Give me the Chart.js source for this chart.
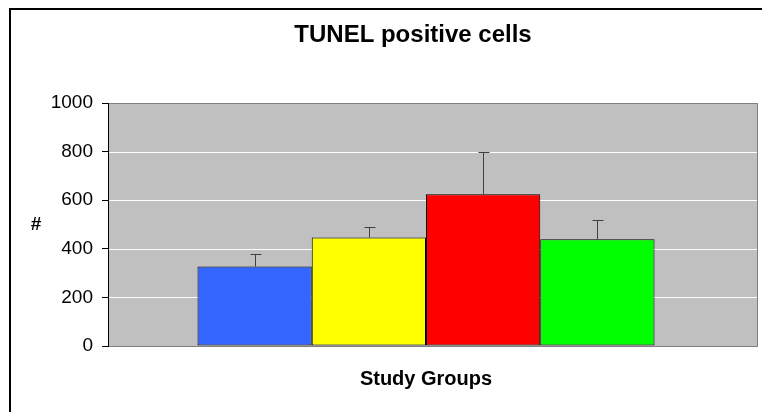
<!DOCTYPE html>
<html>
<head>
<meta charset="utf-8">
<script src="https://cdn.jsdelivr.net/npm/chart.js@4.4.1/dist/chart.umd.min.js"></script>
<style>
  html, body { margin: 0; padding: 0; background: #ffffff; overflow: hidden; }
  canvas { display: block; }
</style>
</head>
<body>
<canvas id="chart" width="762" height="412"></canvas>
<script>
const groups = ['Group 1', 'Group 2', 'Group 3', 'Group 4'];
const means = [327, 446, 624, 439];
const errors = [53, 45, 176, 79];
const colors = ['#3366ff', '#ffff00', '#ff0000', '#00ff00'];
const yTicks = [0, 200, 400, 600, 800, 1000];

const FONT = 'Liberation Sans, Arial, sans-serif';
const PLOT_EXTRA_RIGHT = 14;

// white page, outer frame, title, grey plot area with white gridlines
const plotArea = {
  id: 'plotArea',
  beforeDraw(chart) {
    const { ctx, chartArea: a, scales: { y } } = chart;
    const right = a.right + PLOT_EXTRA_RIGHT;
    ctx.save();
    ctx.fillStyle = '#ffffff';
    ctx.fillRect(0, 0, chart.width, chart.height);
    ctx.strokeStyle = '#000000';
    ctx.lineWidth = 2;
    ctx.strokeRect(10, 9, 900, 600);

    ctx.fillStyle = '#c0c0c0';
    ctx.fillRect(a.left, a.top, right - a.left, a.bottom - a.top);
    ctx.strokeStyle = '#ffffff';
    ctx.lineWidth = 1;
    y.ticks.forEach(t => {
      const py = Math.round(y.getPixelForValue(t.value)) + 0.5;
      ctx.beginPath();
      ctx.moveTo(a.left, py);
      ctx.lineTo(right, py);
      ctx.stroke();
    });
    ctx.strokeStyle = '#808080';
    ctx.strokeRect(Math.round(a.left) + 0.5, Math.round(a.top) + 0.5,
      Math.round(right - a.left) - 1, Math.round(a.bottom - a.top));

    ctx.fillStyle = '#000000';
    ctx.textAlign = 'center';
    ctx.textBaseline = 'middle';
    ctx.font = 'bold 24px ' + FONT;
    ctx.fillText('TUNEL positive cells', 413, 35);
    ctx.font = 'bold 19px ' + FONT;
    ctx.fillText('#', 36, (a.top + a.bottom) / 2);
    ctx.restore();
  }
};

const errorBars = {
  id: 'errorBars',
  afterDatasetsDraw(chart) {
    const { ctx, scales: { y } } = chart;
    ctx.save();
    ctx.strokeStyle = '#404040';
    ctx.lineWidth = 1;
    chart.data.datasets.forEach((ds, i) => {
      const bar = chart.getDatasetMeta(i).data[0];
      const x = Math.round(bar.x) + 0.5;
      const top = Math.round(y.getPixelForValue(ds.data[0] + errors[i])) + 0.5;
      ctx.beginPath();
      ctx.moveTo(x, bar.y);
      ctx.lineTo(x, top);
      ctx.moveTo(x - 5, top);
      ctx.lineTo(x + 6, top);
      ctx.stroke();
    });
    ctx.restore();
  }
};

new Chart(document.getElementById('chart'), {
  type: 'bar',
  plugins: [plotArea, errorBars],
  data: {
    labels: [''],
    datasets: groups.map((g, i) => ({
      label: g,
      data: [means[i]],
      backgroundColor: colors[i],
      borderColor: '#000000',
      borderWidth: 1,
      borderSkipped: false,
      categoryPercentage: 0.7186,
      barPercentage: 1
    }))
  },
  options: {
    responsive: false,
    animation: false,
    devicePixelRatio: 1,
    layout: { padding: { top: 103, right: 762 - 744, bottom: 0, left: 0 } },
    plugins: {
      legend: { display: false },
      tooltip: { enabled: false },
      title: { display: false }
    },
    scales: {
      x: {
        grid: { display: false },
        border: { display: false },
        ticks: { display: false },
        title: {
          display: true,
          text: 'Study Groups',
          color: '#000000',
          font: { family: FONT, size: 20, weight: 'bold' },
          padding: { top: 0, bottom: 21 }
        },
        afterFit(scale) { scale.height = 412 - 346; }
      },
      y: {
        min: 0,
        max: 1000,
        afterBuildTicks(scale) { scale.ticks = yTicks.map(v => ({ value: v })); },
        grid: { drawOnChartArea: false, drawTicks: true, tickLength: 6, tickColor: '#000000' },
        border: { display: true, color: '#000000', width: 1 },
        ticks: {
          color: '#000000',
          padding: 9,
          font: { family: FONT, size: 19 },
          callback: v => String(v)
        },
        afterFit(scale) { scale.width = 108; }
      }
    }
  }
});
</script>
</body>
</html>
